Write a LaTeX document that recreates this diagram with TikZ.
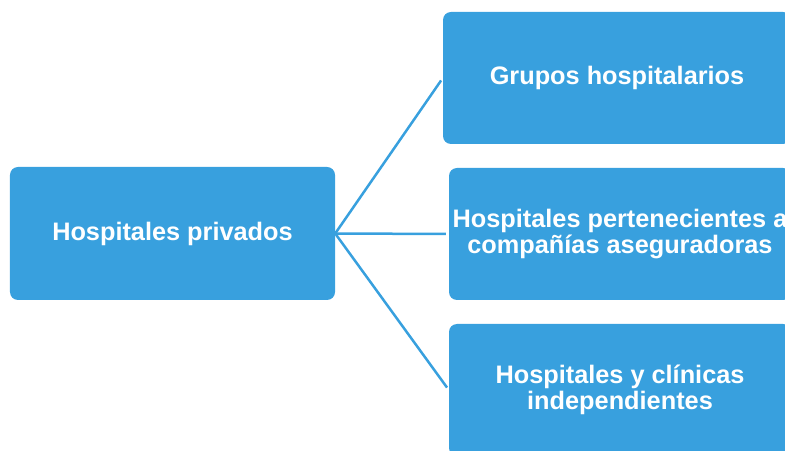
\documentclass[tikz,border=0pt]{standalone}
\usepackage{fontspec}
\setmainfont{Liberation Sans}
\usepackage{tikz}
\definecolor{boxblue}{HTML}{38A0DE}

\begin{document}
\begin{tikzpicture}[x=1bp, y=-1bp,
        box/.style={shape=rectangle, rounded corners=8bp, fill=boxblue, text=white,
            font=\bfseries\fontsize{25.4}{26}\selectfont, align=center, inner sep=0pt,
            minimum width=342bp, minimum height=132bp},
        link/.style={draw=boxblue, line width=2.5bp, shorten >=3bp}]
        \useasboundingbox (0,0) rectangle (785,451);
        \clip (0,0) rectangle (785,451);
        \node[box, minimum width=325bp, minimum height=133bp] (P) at (172.5,233.5) {Hospitales privados};
        \node[box, minimum width=348bp] (G) at (617,78) {Grupos hospitalarios};
        \node[box] (C) at (620,234) {Hospitales pertenecientes a\\compañías aseguradoras};
        \node[box] (I) at (620,390) {Hospitales y clínicas\\independientes};
        \draw[link] (P.east) -- (G.west);
        \draw[link] (P.east) -- (C.west);
        \draw[link] (P.east) -- (I.west);
    \end{tikzpicture}
\end{document}
